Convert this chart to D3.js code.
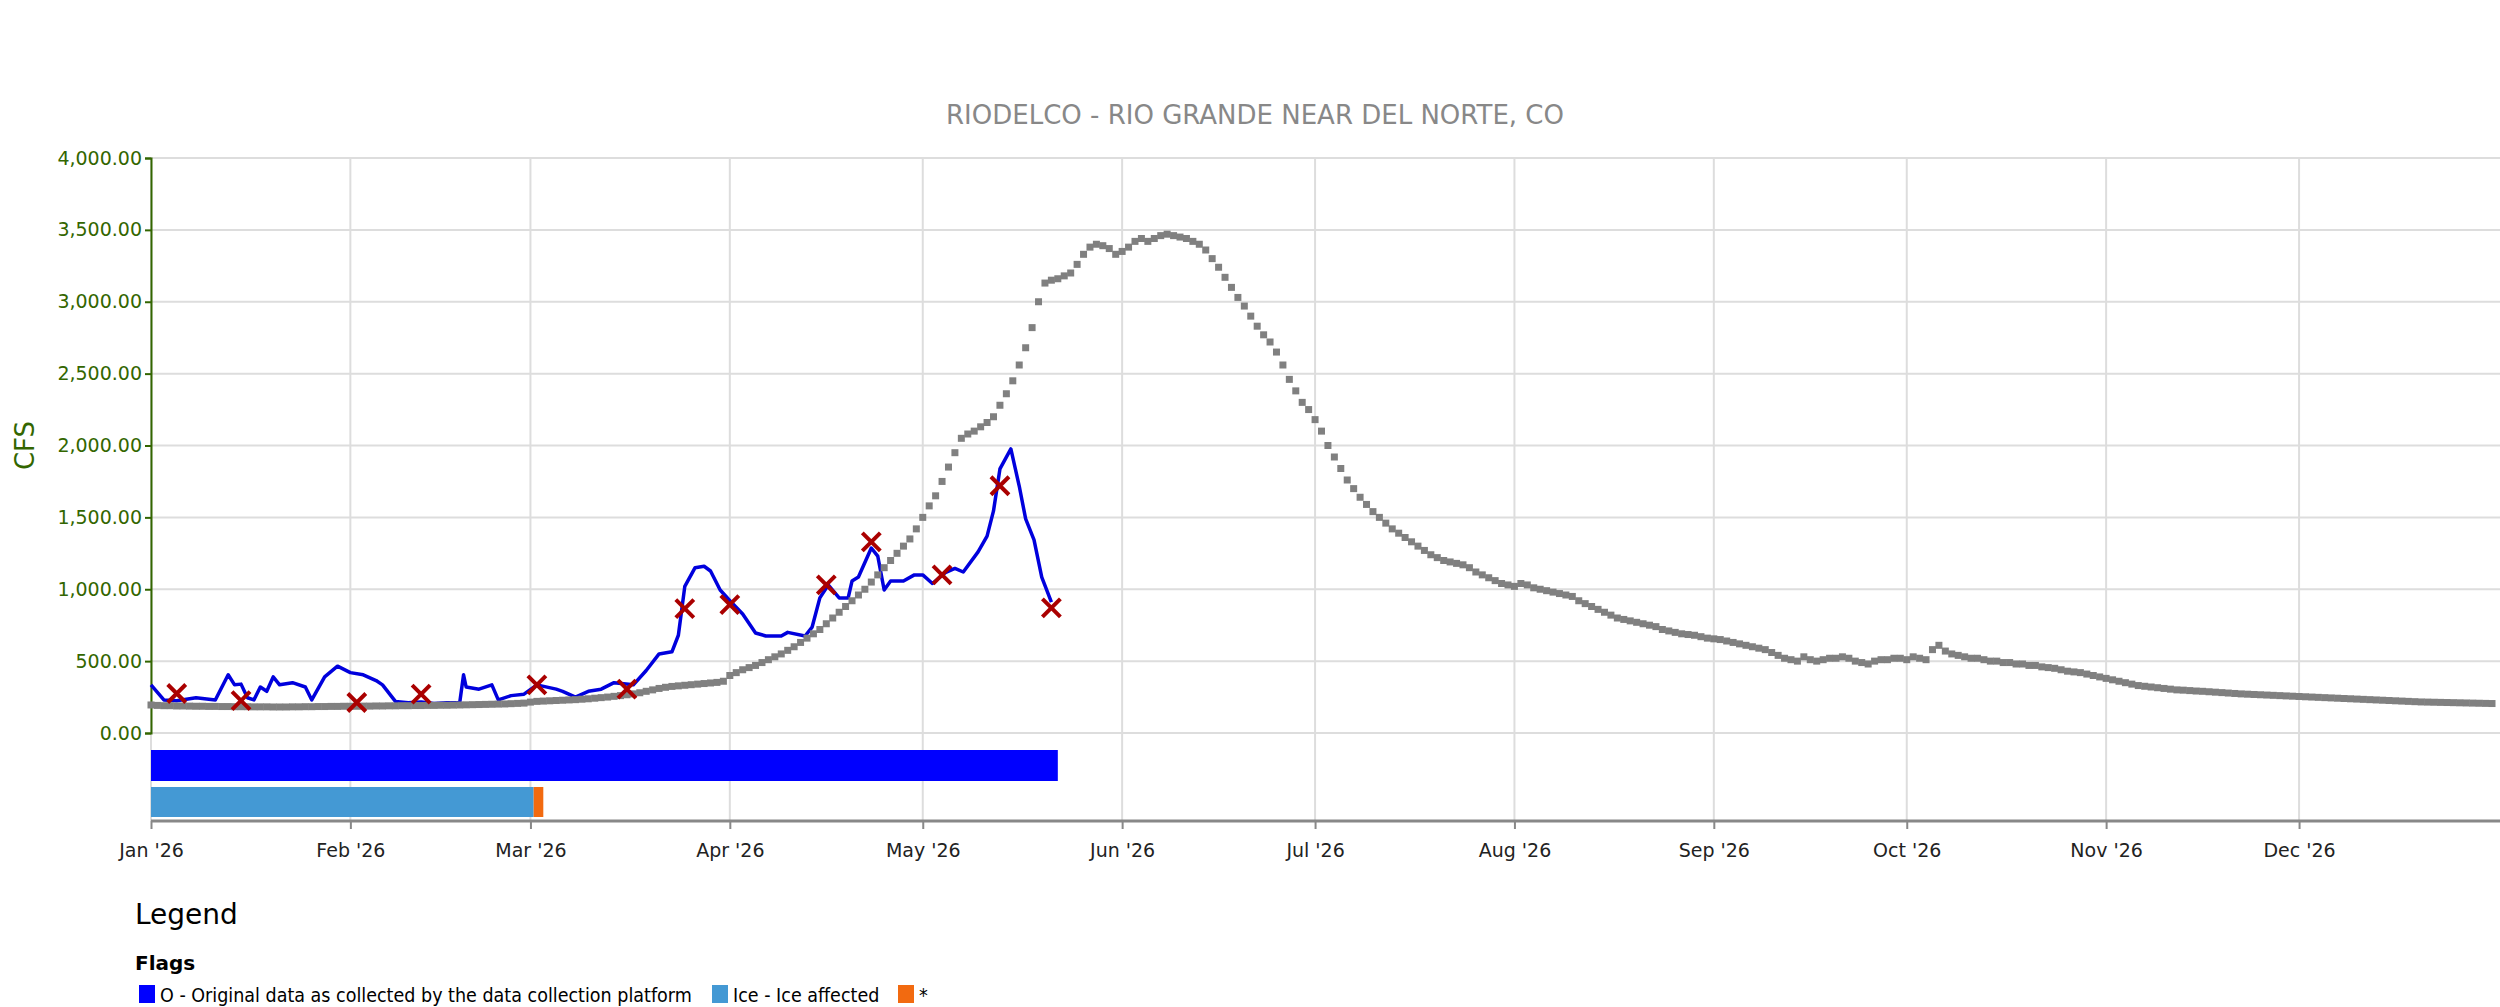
<!DOCTYPE html>
<html>
<head>
<meta charset="utf-8">
<script src="https://cdn.jsdelivr.net/npm/d3@7"></script>
<style>
  body { margin: 0; background: #fff; font-family: "DejaVu Sans", sans-serif; }
</style>
</head>
<body>
<svg id="chart" width="2500" height="1007"></svg>
<script>
// gray series: daily values, Jan 1 .. Dec 31 (grouped by month)
var grayJan = [195,192,190,190,188,188,187,186,186,185,185,184,184,183,183,183,182,182,182,181,181,181,182,182,183,183,184,184,185,185,186];
var grayFeb = [186,186,187,187,188,188,189,189,190,190,191,191,192,192,193,193,194,195,196,197,198,199,200,201,202,204,206,208];
var grayMar = [215,220,222,224,226,228,230,232,235,238,242,246,250,255,260,266,272,280,290,300,310,318,324,328,332,336,340,344,348,352,360];
var grayApr = [400,420,440,455,470,490,510,530,550,575,600,630,660,690,720,760,800,840,880,920,960,1000,1050,1100,1150,1200,1250,1300,1350,1420];
var grayMay = [1500,1580,1650,1750,1850,1950,2050,2080,2100,2130,2160,2200,2280,2360,2450,2560,2680,2820,3000,3130,3150,3160,3180,3200,3260,3330,3380,3400,3390,3370,3330];
var grayJun = [3350,3380,3420,3440,3420,3440,3460,3470,3460,3450,3440,3420,3400,3360,3300,3240,3170,3100,3030,2970,2900,2830,2770,2720,2650,2560,2460,2380,2300,2250];
var grayJul = [2180,2100,2000,1920,1840,1760,1700,1640,1590,1540,1500,1460,1420,1390,1360,1330,1300,1270,1240,1220,1200,1190,1180,1170,1150,1120,1100,1080,1060,1040,1030];
var grayAug = [1020,1040,1030,1010,1000,990,980,970,960,950,920,900,880,860,840,820,800,790,780,770,760,750,740,720,710,700,690,685,680,670,660];
var graySep = [655,650,640,630,620,610,600,590,580,560,540,520,510,500,530,510,500,510,520,520,530,520,500,490,480,500,510,510,520,520];
var grayOct = [510,530,520,510,580,610,570,550,540,530,520,520,510,500,500,490,490,480,480,470,470,460,455,450,440,430,425,420,410,400,390];
var grayNov = [380,370,360,350,340,330,325,320,315,310,305,300,298,295,292,290,287,284,281,278,275,272,270,268,266,264,262,260,258,256];
var grayDec = [254,252,250,248,246,244,242,240,238,236,234,232,230,228,226,224,222,220,218,216,215,214,213,212,211,210,209,208,207,206,205];

// blue series (day of year index, 0 = Jan 1)
var blueDays = [0,2,4,7,10,12,13,14,15,16,17,18,19,20,22,24,25,27,29,31,33,35,36,38,40,42,44,46,48,48.6,49,51,53,54,56,58,60,63,64,66,68,70,72,75,77,79,81,82,83,84.6,86,87,88.5,90.5,92,94,95.6,98,99,101.7,102.8,104,105.3,107,108.4,109,110,112,113,114,115,117,118.7,120,121.5,123.5,125,126.3,128.6,130,131,132,133.7,135,136,137.3,138.5,140];
var blueVals = [335,230,225,245,230,405,335,340,245,230,320,290,390,335,350,320,230,390,465,420,405,365,335,220,210,215,205,210,210,405,320,305,335,230,260,270,335,305,290,250,290,305,350,335,435,550,565,680,1020,1150,1160,1127,995,897,828,696,675,675,700,675,737,940,1030,940,940,1057,1085,1287,1231,995,1057,1057,1100,1100,1040,1115,1145,1120,1260,1370,1545,1837,1976,1718,1489,1343,1085,911];

// red X markers
var markDays = [4,14,32,42,60,74,83,90,105,112,123,132,140];
var markVals = [275,225,212,270,335,305,865,893,1030,1330,1100,1720,870];

// flag bars (start day, end day)
var flagO = [[0, 141]];
var flagIce = [[0, 59.5]];
var flagStar = [[59.5, 61]];

var yTicks = [0,500,1000,1500,2000,2500,3000,3500,4000];
var monthLabels = ["Jan '26","Feb '26","Mar '26","Apr '26","May '26","Jun '26","Jul '26","Aug '26","Sep '26","Oct '26","Nov '26","Dec '26"];

var grayVals = [].concat(grayJan, grayFeb, grayMar, grayApr, grayMay, grayJun, grayJul, grayAug, graySep, grayOct, grayNov, grayDec);

var svg = d3.select('#chart');
var plotLeft = 151, plotRight = 2492, plotTop = 158, plotBottom = 733, axisY = 821;
var t0 = new Date(2026, 0, 1);

var x = d3.scaleLinear().domain([0, 364]).range([plotLeft, plotRight]);
var y = d3.scaleLinear().domain([0, 4000]).range([plotBottom, plotTop]);
function dayOf(d) { return Math.round((d - t0) / 864e5); }
var monthStarts = d3.range(12).map(function (m) { return dayOf(new Date(2026, m, 1)); });

// grid
svg.append('g').selectAll('line').data(yTicks).enter().append('line')
    .attr('x1', plotLeft).attr('x2', 2500)
    .attr('y1', function (d) { return y(d); }).attr('y2', function (d) { return y(d); })
    .attr('stroke', '#dddddd').attr('stroke-width', 2);
svg.append('g').selectAll('line').data(monthStarts).enter().append('line')
    .attr('x1', function (d) { return x(d); }).attr('x2', function (d) { return x(d); })
    .attr('y1', plotTop).attr('y2', axisY)
    .attr('stroke', '#dddddd').attr('stroke-width', 2);

// title
svg.append('text').attr('x', 1255).attr('y', 124).attr('text-anchor', 'middle')
    .attr('font-size', 26).attr('fill', '#888').text('RIODELCO - RIO GRANDE NEAR DEL NORTE, CO');

// y axis
var yAxis = svg.append('g').attr('transform', 'translate(' + plotLeft + ',0)')
    .call(d3.axisLeft(y).tickValues(yTicks).tickSize(6).tickFormat(d3.format(',.2f')));
yAxis.select('.domain').attr('stroke', '#336600').attr('stroke-width', 2);
yAxis.selectAll('.tick line').attr('stroke', '#336600').attr('stroke-width', 2);
yAxis.selectAll('text').attr('fill', '#336600').attr('font-size', 19)
    .attr('font-family', 'DejaVu Sans');
svg.append('text').attr('transform', 'translate(34,' + ((plotTop + plotBottom) / 2) + ') rotate(-90)')
    .attr('text-anchor', 'middle').attr('font-size', 26).attr('fill', '#336600').text('CFS');

// x axis
var xAxis = svg.append('g').attr('transform', 'translate(0,' + axisY + ')')
    .call(d3.axisBottom(x).tickValues(monthStarts).tickSize(8)
        .tickFormat(function (d, i) { return monthLabels[i]; }));
xAxis.select('.domain').attr('stroke', '#888').attr('stroke-width', 3).attr('d', 'M' + plotLeft + ',0H2500');
xAxis.selectAll('.tick line').attr('stroke', '#888').attr('stroke-width', 2);
xAxis.selectAll('text').attr('fill', '#222').attr('font-size', 19).attr('dy', '1.3em')
    .attr('font-family', 'DejaVu Sans');

// flag bars
function bars(data, y0, h, color) {
  svg.append('g').selectAll('rect').data(data).enter().append('rect')
      .attr('x', function (d) { return x(d[0]); })
      .attr('width', function (d) { return x(d[1]) - x(d[0]); })
      .attr('y', y0).attr('height', h).attr('fill', color);
}
bars(flagO, 750, 31, '#0000ff');
bars(flagIce, 787, 30, '#4499d4');
bars(flagStar, 787, 30, '#f26a10');

// blue line
var line = d3.line().x(function (d) { return x(d[0]); }).y(function (d) { return y(d[1]); });
svg.append('path').datum(d3.zip(blueDays, blueVals))
    .attr('d', line).attr('fill', 'none').attr('stroke', '#0000dd').attr('stroke-width', 3.5)
    .attr('stroke-linejoin', 'round');

// gray squares
svg.append('g').selectAll('rect').data(grayVals).enter().append('rect')
    .attr('x', function (d, i) { return x(i) - 3.5; })
    .attr('y', function (d) { return y(d) - 3.5; })
    .attr('width', 7).attr('height', 7).attr('fill', '#808080');

// red X markers
var s = 9;
svg.append('g').selectAll('path').data(d3.zip(markDays, markVals)).enter().append('path')
    .attr('d', function (d) {
      var cx = x(d[0]), cy = y(d[1]);
      return 'M' + (cx - s) + ',' + (cy - s) + 'L' + (cx + s) + ',' + (cy + s) +
          'M' + (cx - s) + ',' + (cy + s) + 'L' + (cx + s) + ',' + (cy - s);
    })
    .attr('stroke', '#aa0000').attr('stroke-width', 4);

// legend
svg.append('text').attr('x', 135).attr('y', 924).attr('font-size', 28).attr('fill', '#000').text('Legend');
svg.append('text').attr('x', 135).attr('y', 970).attr('font-size', 20).attr('font-weight', 'bold').attr('fill', '#000').text('Flags');
var legendItems = [
  {label: 'O - Original data as collected by the data collection platform', color: '#0000ff', x: 139},
  {label: 'Ice - Ice affected', color: '#4499d4', x: 712},
  {label: '*', color: '#f26a10', x: 898}
];
var li = svg.append('g').selectAll('g').data(legendItems).enter().append('g')
    .attr('transform', function (d) { return 'translate(' + d.x + ',985)'; });
li.append('rect').attr('width', 16).attr('height', 18).attr('fill', function (d) { return d.color; });
li.append('text').attr('x', 21).attr('y', 17).attr('font-size', 19.5)
    .attr('font-family', 'DejaVu Sans Condensed, DejaVu Sans').text(function (d) { return d.label; });
</script>
</body>
</html>
